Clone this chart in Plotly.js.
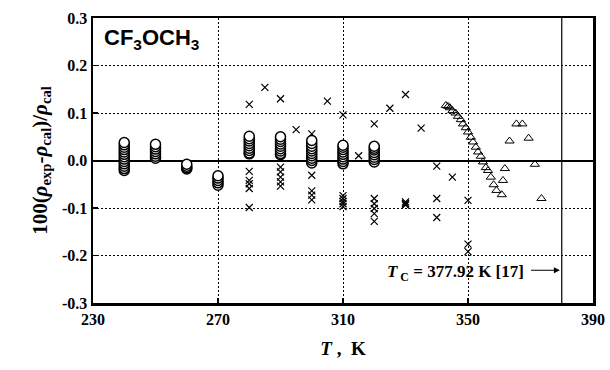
<!DOCTYPE html>
<html>
<head>
<meta charset="utf-8">
<script src="https://cdn.plot.ly/plotly-3.0.1.min.js"></script>
<style>html,body{margin:0;padding:0;background:#fff;}#chart{width:610px;height:370px;}</style>
</head>
<body>
<div id="chart"></div>
<script>
// Circles (stacked columns)
var circleT = [
  240,240,240,240,240,240,240,240,240,240,240,240,240,
  250,250,250,250,250,250,250,
  260,260,260,260,
  270,270,270,270,270,
  280,280,280,280,280,280,280,280,280,
  290,290,290,290,290,290,290,290,290,
  300,300,300,300,300,300,300,300,300,300,
  310,310,310,310,310,310,310,310,310,
  320,320,320,320,320,320,320,320
];
var circleV = [
  -0.021,-0.017,-0.012,-0.007,-0.002,0.003,0.008,0.013,0.018,0.023,0.028,0.033,0.038,
  0.005,0.009,0.014,0.019,0.024,0.029,0.034,
  -0.018,-0.015,-0.012,-0.008,
  -0.052,-0.047,-0.042,-0.037,-0.032,
  0.014,0.016,0.021,0.026,0.031,0.036,0.041,0.046,0.051,
  0.012,0.015,0.020,0.025,0.030,0.035,0.040,0.045,0.050,
  -0.005,0.000,0.005,0.010,0.015,0.020,0.025,0.030,0.036,0.042,
  -0.007,-0.002,0.003,0.008,0.013,0.018,0.023,0.028,0.032,
  -0.003,0.002,0.007,0.012,0.017,0.022,0.026,0.030
];
// Crosses
var crossT = [
  280,280,280,280,280,280,
  285,
  290,290,290,290,290,290,
  295,
  300,300,300,300,300,
  305,
  310,310,310,310,310,310,
  315,
  320,320,320,320,320,320,
  325,
  330,330,330,330,330,
  335,
  340,340,340,
  345,
  350,350,350
];
var crossV = [
  0.118,-0.023,-0.042,-0.049,-0.059,-0.099,
  0.154,
  0.130,-0.014,-0.024,-0.035,-0.045,-0.054,
  0.065,
  0.056,-0.031,-0.064,-0.073,-0.083,
  0.125,
  0.096,-0.074,-0.080,-0.086,-0.091,-0.097,
  0.010,
  0.077,-0.080,-0.091,-0.101,-0.112,-0.128,
  0.110,
  0.139,-0.087,-0.090,-0.092,-0.094,
  0.068,
  -0.012,-0.080,-0.120,
  -0.035,
  -0.084,-0.176,-0.192
];
// Triangles
var triT = [
  342.9,343.6,344.2,345.0,346.0,346.8,347.7,348.4,349.3,350.0,350.9,351.6,352.5,353.2,354.1,354.8,355.7,356.4,357.3,358.2,359.1,360.8,
  365.5,367.4,363.3,369.4,361.8,371.4,361.2,373.5
];
var triV = [
  0.116,0.114,0.111,0.105,0.100,0.093,0.086,0.077,0.069,0.060,0.049,0.039,0.028,0.018,0.009,-0.003,-0.015,-0.021,-0.035,-0.051,-0.063,-0.072,
  0.077,0.077,0.041,0.047,-0.017,-0.008,-0.042,-0.080
];
var xTicks = [230, 270, 310, 350, 390];
var yTicks = [-0.3, -0.2, -0.1, 0.0, 0.1, 0.2, 0.3];
var yTickText = ['-0.3', '-0.2', '-0.1', '0.0', '0.1', '0.2', '0.3'];
var Tc = 380;

var serif = 'Liberation Serif, Times New Roman, serif';
function b(s) { return '<b>' + s + '</b>'; }

var traces = [
  {x: crossT, y: crossV, type: 'scatter', mode: 'markers',
   marker: {symbol: 'x-thin-open', size: 7, color: '#000', line: {color: '#000', width: 1.2}}},
  {x: triT, y: triV, type: 'scatter', mode: 'markers',
   marker: {symbol: 'triangle-up-open', size: 8, color: '#000', line: {color: '#000', width: 1}}},
  {x: circleT, y: circleV, type: 'scatter', mode: 'markers',
   marker: {symbol: 'circle', size: 10, color: '#fff', line: {color: '#000', width: 1.5}}}
];

var layout = {
  width: 610, height: 370,
  margin: {l: 92.5, r: 16.5, t: 17.5, b: 67},
  paper_bgcolor: '#fff', plot_bgcolor: '#fff',
  showlegend: false,
  xaxis: {
    range: [230, 390], tickvals: xTicks, ticktext: xTicks.map(function (v) { return b(String(v)); }),
    showline: true, mirror: true, linecolor: '#000', linewidth: 2.5,
    showgrid: true, gridcolor: '#000', gridwidth: 1, griddash: '2px,2px',
    ticks: 'inside', ticklen: 5, tickwidth: 1.2, tickcolor: '#000',
    zeroline: false,
    tickfont: {family: serif, size: 16, color: '#000'},
    title: {text: '<b><i>T</i> ,  K</b>', font: {family: serif, size: 19, color: '#000'}, standoff: 15}
  },
  yaxis: {
    range: [-0.3, 0.3], tickvals: yTicks, ticktext: yTickText.map(b),
    showline: true, mirror: true, linecolor: '#000', linewidth: 2.5,
    showgrid: true, gridcolor: '#000', gridwidth: 1, griddash: '2px,2px',
    ticks: 'inside', ticklen: 5, tickwidth: 1.2, tickcolor: '#000',
    zeroline: true, zerolinecolor: '#000', zerolinewidth: 2,
    tickfont: {family: serif, size: 16, color: '#000'},
    title: {text: '<b>100(<i>ρ</i><sub>exp</sub>-<i>ρ</i><sub>cal</sub>)/<i>ρ</i><sub>cal</sub></b>', font: {family: serif, size: 21, color: '#000'}, standoff: 9}
  },
  shapes: [
    {type: 'line', xref: 'x', yref: 'paper', x0: Tc, x1: Tc, y0: 0, y1: 1, line: {color: '#000', width: 1.2}}
  ],
  annotations: [
    {xref: 'paper', yref: 'paper', x: 0.018, y: 0.925, xanchor: 'left', yanchor: 'middle', showarrow: false,
     text: '<b>CF<sub>3</sub>OCH<sub>3</sub></b>', font: {family: 'Liberation Sans, Arial, sans-serif', size: 22, color: '#000'}},
    {xref: 'x', yref: 'y', x: 368.5, y: -0.236, xanchor: 'right', yanchor: 'middle', showarrow: false,
     text: '<b><i>T</i><sub> C</sub> = 377.92 K [17]</b>', font: {family: serif, size: 17, color: '#000'}},
    {xref: 'x', yref: 'y', axref: 'x', ayref: 'y', x: 379.4, y: -0.231, ax: 369.7, ay: -0.231, text: '',
     showarrow: true, arrowhead: 2, arrowsize: 1, arrowwidth: 1.2, arrowcolor: '#000'}
  ]
};

Plotly.newPlot('chart', traces, layout, {staticPlot: true, displayModeBar: false});
</script>
</body>
</html>
